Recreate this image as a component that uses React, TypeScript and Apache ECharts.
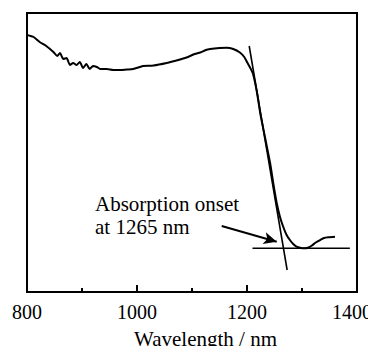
import React, { useEffect, useRef } from "react";
import * as echarts from "echarts";

// Spectrum: wavelength (nm) vs absorbance (a.u., arbitrary)
const wavelengths = [
  800, 812, 823, 835, 848, 855, 860, 866, 872, 878, 884, 890, 896, 902, 908, 914, 920, 927, 933,
  945, 957, 969, 981, 993, 1005, 1011, 1030, 1054, 1075, 1090, 1105, 1115, 1125, 1133, 1150, 1163,
  1175, 1187, 1195, 1200, 1206, 1211, 1218, 1224, 1233, 1242, 1248, 1254, 1260, 1266, 1272, 1278,
  1284, 1290, 1298, 1305, 1312, 1318, 1325, 1333, 1340, 1348, 1360,
];
const absorbance = [
  25.7, 25.5, 25.0, 24.6, 24.0, 23.6, 23.9, 23.3, 23.4, 22.7, 22.9, 22.7, 23.0, 22.4, 22.8, 22.3,
  22.6, 22.5, 22.3, 22.3, 22.2, 22.2, 22.25, 22.3, 22.5, 22.6, 22.65, 22.9, 23.2, 23.45, 23.8,
  23.95, 24.2, 24.3, 24.4, 24.43, 24.3, 23.95, 23.5, 23.0, 22.4, 21.8, 20.0, 17.9, 15.4, 12.9, 10.8,
  8.9, 7.5, 6.5, 5.7, 5.2, 4.8, 4.53, 4.4, 4.37, 4.45, 4.65, 4.95, 5.2, 5.4, 5.47, 5.53,
];

// Tangent to the absorption edge and the baseline
const tangentX = [1204, 1273];
const tangentY = [24.6, 2.2];
const baseX = [1210, 1387];
const baseY = [4.37, 4.37];

// Arrow pointing at the onset
const arrowFrom = [1154, 6.6];
const arrowTo = [1254, 5.03];

const xTicks = [800, 1000, 1200, 1400];
const annotation = ["Absorption onset", "at 1265 nm"];

export default function App() {
  const ref = useRef<HTMLDivElement>(null);
  useEffect(() => {
    if (!ref.current) return;
    const chart = echarts.init(ref.current, null, { renderer: "svg" });
    const font = "Times New Roman";
    const lastTick = xTicks[xTicks.length - 1];
    chart.setOption({
      animation: false,
      backgroundColor: "#fff",
      grid: {
        left: 27,
        right: 19,
        top: 13,
        bottom: 62,
        containLabel: false,
        outerBoundsMode: "none",
        show: true,
        borderColor: "#000",
        borderWidth: 2,
        backgroundColor: "transparent",
      },
      textStyle: { fontFamily: font },
      xAxis: {
        type: "value",
        min: xTicks[0],
        max: lastTick,
        interval: 200,
        name: "Wavelength / nm",
        nameLocation: "middle",
        nameGap: 36,
        nameTextStyle: { fontFamily: font, fontSize: 21, color: "#000", padding: [0, 0, 0, 27] },
        axisLine: { show: true, lineStyle: { color: "#000", width: 2 } },
        axisTick: { show: true, inside: true, length: 7, lineStyle: { color: "#000", width: 2 } },
        minorTick: { show: true, splitNumber: 2, length: 4, lineStyle: { color: "#000", width: 2 } },
        axisLabel: {
          fontFamily: font,
          fontSize: 20,
          color: "#000",
          margin: 10,
          showMaxLabel: false,
          formatter: (v: number) => String(v),
        },
        splitLine: { show: false },
      },
      yAxis: {
        type: "value",
        min: 0,
        max: 27.9,
        show: false,
      },
      series: [
        {
          type: "line",
          data: wavelengths.map((w, i) => [w, absorbance[i]]),
          showSymbol: false,
          smooth: 0.2,
          lineStyle: { color: "#000", width: 2 },
          silent: true,
        },
        {
          type: "line",
          data: tangentX.map((w, i) => [w, tangentY[i]]),
          showSymbol: false,
          lineStyle: { color: "#000", width: 1.6 },
          silent: true,
        },
        {
          type: "line",
          data: baseX.map((w, i) => [w, baseY[i]]),
          showSymbol: false,
          lineStyle: { color: "#000", width: 1.6 },
          silent: true,
          markLine: {
            silent: true,
            animation: false,
            label: { show: false },
            lineStyle: { color: "#000", width: 2, type: "solid" },
            symbol: ["none", "arrow"],
            symbolSize: [9, 13],
            data: [[{ coord: arrowFrom }, { coord: arrowTo }]],
          },
        },
      ],
      graphic: [
        {
          type: "text",
          left: 95,
          top: 192,
          style: {
            text: annotation.join("\n"),
            fontFamily: font,
            fontSize: 21,
            lineHeight: 23,
            fill: "#000",
          },
        },
        {
          type: "text",
          x: 352,
          y: 302,
          style: {
            text: String(lastTick),
            align: "center",
            verticalAlign: "top",
            fontFamily: font,
            fontSize: 20,
            fill: "#000",
          },
        },
      ],
    });
    return () => chart.dispose();
  }, []);
  return <div ref={ref} style={{ width: 376, height: 354, margin: -8 }} />;
}
